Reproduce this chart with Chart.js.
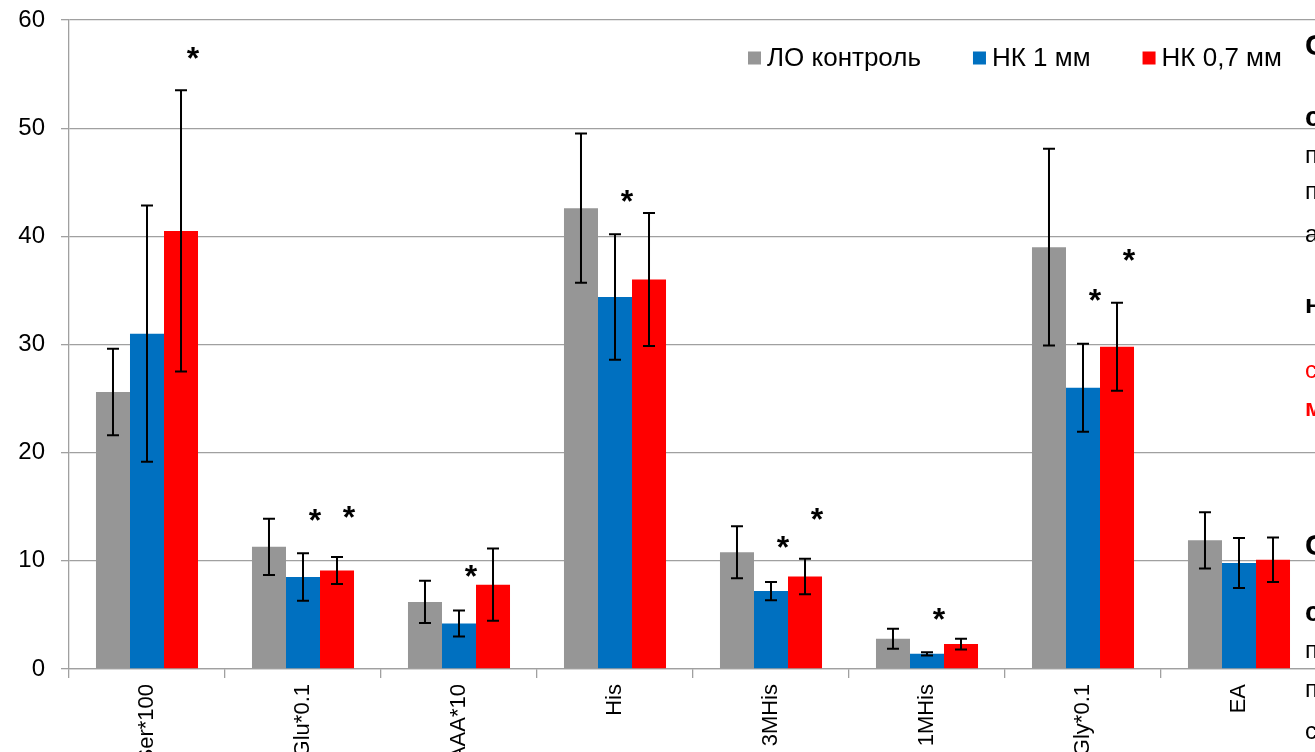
<!DOCTYPE html>
<html>
<head>
<meta charset="utf-8">
<script src="https://cdn.jsdelivr.net/npm/chart.js@4/dist/chart.umd.min.js"></script>
<style>
  html, body { margin: 0; padding: 0; width: 1315px; height: 752px; overflow: hidden; background: #fff; }
  #wrap { position: absolute; left: 0; top: 0; width: 1320px; height: 789px; }
  .side { position: absolute; left: 1305px; font-family: "Liberation Sans", Arial, sans-serif; line-height: 1; white-space: nowrap; }
</style>
</head>
<body>
<div id="wrap"><canvas id="chart"></canvas></div>

<!-- обрезанный текст слайда справа -->
<div class="side" style="top:30px;font-size:30px;font-weight:bold">С</div>
<div class="side" style="top:103px;font-size:28px;font-weight:bold">с</div>
<div class="side" style="top:143px;font-size:24px">п</div>
<div class="side" style="top:179px;font-size:24px">п</div>
<div class="side" style="top:222px;font-size:24px">а</div>
<div class="side" style="top:291px;font-size:26px;font-weight:bold">н</div>
<div class="side" style="top:358px;font-size:24px;color:#ff0000">с</div>
<div class="side" style="top:396px;font-size:24px;color:#ff0000;font-weight:bold">м</div>
<div class="side" style="top:530px;font-size:30px;font-weight:bold">С</div>
<div class="side" style="top:598px;font-size:28px;font-weight:bold">с</div>
<div class="side" style="top:638px;font-size:24px">п</div>
<div class="side" style="top:677px;font-size:24px">п</div>
<div class="side" style="top:719px;font-size:24px">с</div>

<script>
// categories
const labels = ['Ser*100', 'Glu*0.1', 'AAA*10', 'His', '3MHis', '1MHis', 'Gly*0.1', 'EA'];
const seriesNames = ['ЛО контроль', 'НК 1 мм', 'НК 0,7 мм'];

// mean values
const control = [25.6, 11.3, 6.2, 42.6, 10.8, 2.8, 39.0, 11.9];
const nk1 = [31.0, 8.5, 4.2, 34.4, 7.2, 1.4, 26.0, 9.8];
const nk07 = [40.5, 9.1, 7.8, 36.0, 8.55, 2.3, 29.8, 10.1];

// error bars (+/-)
const controlErr = [4.0, 2.6, 1.95, 6.9, 2.4, 0.93, 9.1, 2.6];
const nk1Err = [11.85, 2.2, 1.2, 5.8, 0.85, 0.15, 4.07, 2.3];
const nk07Err = [13.0, 1.25, 3.35, 6.15, 1.64, 0.5, 4.07, 2.05];

// asterisks (level of the mark, null = none)
const controlStar = [null, null, null, null, null, null, null, null];
const nk1Star = [null, 14.4, 9.2, 43.9, 11.9, 5.3, 34.8, null];
const nk07Star = [57.1, 14.7, null, null, 14.5, null, 38.5, null];

// y axis
const yTicks = [0, 10, 20, 30, 40, 50, 60];

const FONT = '"Liberation Sans", Arial, sans-serif';
const gridColor = '#a0a0a0';

// error bars + asterisks
const errorBars = {
  id: 'errorBars',
  afterDatasetsDraw(chart) {
    const ctx = chart.ctx;
    const y = chart.scales.y;
    ctx.save();
    chart.data.datasets.forEach(function (ds, i) {
      const meta = chart.getDatasetMeta(i);
      meta.data.forEach(function (bar, j) {
        const v = ds.data[j];
        const e = ds.err[j];
        const top = y.getPixelForValue(v + e);
        const bot = y.getPixelForValue(v - e);
        ctx.strokeStyle = '#000';
        ctx.lineWidth = 2;
        ctx.beginPath();
        ctx.moveTo(bar.x, top); ctx.lineTo(bar.x, bot);
        ctx.moveTo(bar.x - 6, top); ctx.lineTo(bar.x + 6, top);
        ctx.moveTo(bar.x - 6, bot); ctx.lineTo(bar.x + 6, bot);
        ctx.stroke();

        const s = ds.star[j];
        if (s !== null) {
          ctx.fillStyle = '#000';
          ctx.font = 'bold 32px ' + FONT;
          ctx.textAlign = 'center';
          ctx.textBaseline = 'alphabetic';
          ctx.fillText('*', bar.x + 12, y.getPixelForValue(s) + 18);
        }
      });
    });
    ctx.restore();
  }
};

// legend inside the plot
const legendInside = {
  id: 'legendInside',
  afterDraw(chart) {
    const ctx = chart.ctx;
    ctx.save();
    ctx.font = '26px ' + FONT;
    ctx.textBaseline = 'middle';
    ctx.textAlign = 'left';
    let x = 748;
    const cy = 58;
    chart.data.datasets.forEach(function (ds) {
      ctx.fillStyle = ds.backgroundColor;
      ctx.fillRect(x, cy - 6.5, 13, 13);
      ctx.fillStyle = '#000';
      ctx.fillText(ds.label, x + 19, cy + 1);
      x += 19 + ctx.measureText(ds.label).width + 52;
    });
    ctx.restore();
  }
};

new Chart(document.getElementById('chart'), {
  type: 'bar',
  data: {
    labels: labels,
    datasets: [
      { label: seriesNames[0], data: control, err: controlErr, star: controlStar, backgroundColor: '#969696' },
      { label: seriesNames[1], data: nk1, err: nk1Err, star: nk1Star, backgroundColor: '#0070c0' },
      { label: seriesNames[2], data: nk07, err: nk07Err, star: nk07Star, backgroundColor: '#ff0000' }
    ]
  },
  options: {
    responsive: true,
    maintainAspectRatio: false,
    animation: false,
    layout: { padding: { top: 20, right: 3, left: 0, bottom: 0 } },
    datasets: { bar: { categoryPercentage: 0.654, barPercentage: 1 } },
    plugins: {
      legend: { display: false },
      tooltip: { enabled: false }
    },
    scales: {
      x: {
        grid: { drawOnChartArea: false, color: gridColor, lineWidth: 1.3, tickLength: 9 },
        border: { color: gridColor, width: 1.3 },
        ticks: {
          autoSkip: false, maxRotation: 90, minRotation: 90, padding: 6,
          color: '#000', font: { family: FONT, size: 22 }
        },
        afterFit: function (scale) { scale.height = 120; }
      },
      y: {
        min: 0, max: 60,
        afterBuildTicks: function (scale) { scale.ticks = yTicks.map(function (v) { return { value: v }; }); },
        grid: { color: gridColor, lineWidth: 1.3, tickLength: 8 },
        border: { color: gridColor, width: 1.3 },
        ticks: { padding: 16, color: '#000', font: { family: FONT, size: 24 } },
        afterFit: function (scale) {
          scale.width = 69;
          scale.paddingTop = 0;
          scale.paddingBottom = 0;
        }
      }
    }
  },
  plugins: [errorBars, legendInside]
});
</script>
</body>
</html>
